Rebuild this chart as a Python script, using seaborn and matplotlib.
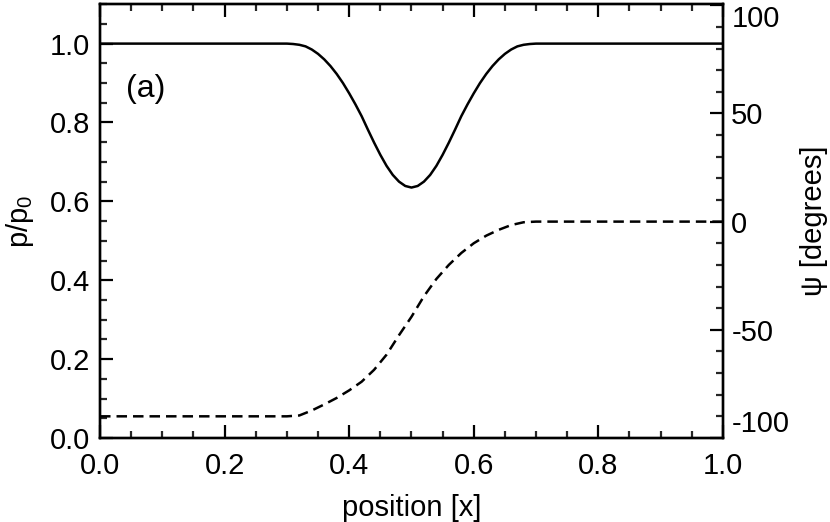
import matplotlib
matplotlib.use("Agg")
import matplotlib.pyplot as plt
from matplotlib.ticker import MultipleLocator
import seaborn as sns
import pandas as pd

# ---- data ----
x_p = [0.00, 0.30, 0.31, 0.32, 0.33, 0.34, 0.35, 0.36, 0.37, 0.38, 0.39,
       0.40, 0.41, 0.42, 0.43, 0.44, 0.45, 0.46, 0.47, 0.48, 0.49, 0.50,
       0.51, 0.52, 0.53, 0.54, 0.55, 0.56, 0.57, 0.58, 0.59, 0.60, 0.61,
       0.62, 0.63, 0.64, 0.65, 0.66, 0.67, 0.68, 0.69, 0.70, 1.00]
p_ratio = [1.000, 1.000, 0.999, 0.997, 0.993, 0.985, 0.974, 0.960, 0.943, 0.923, 0.900,
           0.874, 0.846, 0.816, 0.782, 0.749, 0.718, 0.690, 0.667, 0.650, 0.639, 0.635,
           0.639, 0.650, 0.667, 0.690, 0.718, 0.749, 0.782, 0.816, 0.846, 0.874, 0.900,
           0.923, 0.943, 0.960, 0.974, 0.985, 0.993, 0.997, 0.999, 1.000, 1.000]

x_psi = [0.00, 0.30, 0.32, 0.34, 0.36, 0.38, 0.40, 0.42, 0.44, 0.46, 0.48, 0.50,
         0.52, 0.54, 0.56, 0.58, 0.60, 0.62, 0.64, 0.66, 0.68, 0.70, 1.00]
psi_deg = [-90.0, -90.0, -89.6, -87.3, -84.5, -81.5, -78.0, -74.0, -68.5, -61.5, -52.5, -44.0,
           -34.5, -26.5, -20.0, -14.5, -10.0, -6.5, -3.8, -1.6, -0.3, 0.0, 0.0]

x_ticks = [0.0, 0.2, 0.4, 0.6, 0.8, 1.0]
left_ticks = [0.0, 0.2, 0.4, 0.6, 0.8, 1.0]
right_ticks = [-100, -50, 0, 50, 100]

sns.set_theme(style="ticks")
plt.rcParams['font.family'] = ['Liberation Sans', 'DejaVu Sans']
plt.rcParams['mathtext.fontset'] = 'custom'
plt.rcParams['mathtext.rm'] = 'Liberation Sans'
plt.rcParams['mathtext.it'] = 'Liberation Sans'

FS = 21
fig = plt.figure(figsize=(8.3, 5.22), dpi=100)
ax = fig.add_axes([0.1205, 0.161, 0.7505, 0.831])
ax2 = ax.twinx()

df_p = pd.DataFrame({"x": x_p, "p": p_ratio})
df_psi = pd.DataFrame({"x": x_psi, "psi": psi_deg})

sns.lineplot(data=df_p, x="x", y="p", ax=ax, color="black", lw=1.8)
sns.lineplot(data=df_psi, x="x", y="psi", ax=ax2, color="black", lw=1.8,
             dashes=False)
ax2.lines[0].set_dashes((4.2, 2.4))

ax.set_xlim(0, 1)
ax.set_ylim(0, 1.1)
ax2.set_ylim(-100, 100.5)

ax.set_xticks(x_ticks)
ax.set_xticklabels([f"{v:.1f}" for v in x_ticks])
ax.set_yticks(left_ticks)
ax.set_yticklabels([f"{v:.1f}" for v in left_ticks])
ax2.set_yticks(right_ticks)
ax2.set_yticklabels([str(v) for v in right_ticks])

ax.xaxis.set_minor_locator(MultipleLocator(0.05))
ax.yaxis.set_minor_locator(MultipleLocator(0.05))
ax2.yaxis.set_minor_locator(MultipleLocator(10))

for a in (ax, ax2):
    for s in a.spines.values():
        s.set_linewidth(1.7)
        s.set_color("black")
        s.set_visible(True)

ax.tick_params(axis="both", which="major", direction="in", length=9.5, width=1.6,
               labelsize=FS, colors="black", top=True, right=False, pad=7)
ax.tick_params(axis="both", which="minor", direction="in", length=5, width=1.6,
               top=True, right=False)
ax.tick_params(axis="x", which="major", pad=10)
ax2.tick_params(axis="y", which="major", direction="in", length=9.5, width=1.6,
                labelsize=FS, colors="black", pad=6)
ax2.tick_params(axis="y", which="minor", direction="in", length=5, width=1.6)

# end labels on the right axis sit inside the axis range, as in the reference
rlabels = ax2.get_yticklabels()
rlabels[-1].set_verticalalignment("top")
rlabels[0].set_verticalalignment("bottom")

ax.set_xlabel("position [x]", fontsize=FS, labelpad=10, color="black")
ax.set_ylabel("p/p$_0$", fontsize=FS, labelpad=10, color="black")
ax2.set_ylabel("ψ [degrees]", fontsize=FS, labelpad=8, color="black")

ax.text(0.074, 0.884, "(a)", fontsize=23, ha="center", va="center", color="black")

ax.set_facecolor("white")
fig.patch.set_facecolor("white")
fig.savefig("out.png", dpi=100, facecolor="white")
